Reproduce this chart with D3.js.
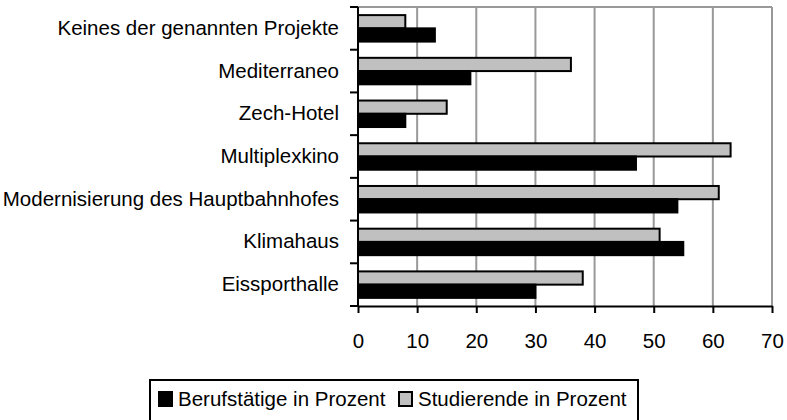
<!DOCTYPE html>
<html>
<head>
<meta charset="utf-8">
<script src="https://cdn.jsdelivr.net/npm/d3@7"></script>
<style>
  body { margin: 0; background: #fff; }
  svg text { font-family: "Liberation Sans", Arial, sans-serif; fill: #000; }
</style>
</head>
<body>
<div id="chart"></div>
<script>
// data, top to bottom as drawn
const categories = ["Keines der genannten Projekte", "Mediterraneo", "Zech-Hotel", "Multiplexkino",
    "Modernisierung des Hauptbahnhofes", "Klimahaus", "Eissporthalle"];
const berufstaetige = [13, 19, 8, 47, 54, 55, 30];
const studierende = [8, 36, 15, 63, 61, 51, 38];
const xTicks = [0, 10, 20, 30, 40, 50, 60, 70];
const seriesNames = ["Berufstätige in Prozent", "Studierende in Prozent"];

const svgWidth = 787, svgHeight = 420;
const margin = { top: 7, right: 15, bottom: 114, left: 358 };
const width = svgWidth - margin.left - margin.right;
const height = svgHeight - margin.top - margin.bottom;
const fontSize = 20.5;

const svg = d3.select("#chart").append("svg")
    .attr("width", svgWidth)
    .attr("height", svgHeight);

const g = svg.append("g")
    .attr("transform", `translate(${margin.left},${margin.top})`);

const x = d3.scaleLinear().domain([0, 70]).range([0, width]);
const y = d3.scaleBand().domain(categories).range([0, height])
    .paddingInner(0.38).paddingOuter(0.19);
// gray series on top, black below
const sub = d3.scaleBand().domain(["stud", "beruf"]).range([0, y.bandwidth()]);

// gridlines
g.append("g").selectAll("line")
    .data(xTicks.slice(1))
    .join("line")
    .attr("x1", d => x(d)).attr("x2", d => x(d))
    .attr("y1", 0).attr("y2", height)
    .attr("stroke", "#999").attr("stroke-width", 2);
g.append("line")
    .attr("x1", 0).attr("x2", width).attr("y1", 0).attr("y2", 0)
    .attr("stroke", "#999").attr("stroke-width", 2);

const rows = categories.map((c, i) => ({ c, beruf: berufstaetige[i], stud: studierende[i] }));

g.append("g").selectAll("rect")
    .data(rows)
    .join("rect")
    .attr("x", 0)
    .attr("y", d => y(d.c) + sub("stud"))
    .attr("width", d => x(d.stud))
    .attr("height", sub.bandwidth())
    .attr("fill", "#c0c0c0")
    .attr("stroke", "#000").attr("stroke-width", 2);

g.append("g").selectAll("rect")
    .data(rows)
    .join("rect")
    .attr("x", 0)
    .attr("y", d => y(d.c) + sub("beruf"))
    .attr("width", d => x(d.beruf))
    .attr("height", sub.bandwidth())
    .attr("fill", "#000")
    .attr("stroke", "#000").attr("stroke-width", 2);

// x axis
const xAxis = g.append("g")
    .attr("transform", `translate(0,${height})`)
    .call(d3.axisBottom(x).tickValues(xTicks).tickSize(7).tickSizeOuter(0).tickPadding(20));
xAxis.selectAll("line").attr("stroke", "#000").attr("stroke-width", 2);
xAxis.select(".domain").attr("stroke", "#000").attr("stroke-width", 2);
xAxis.selectAll("text").attr("font-size", fontSize).attr("font-family", "Liberation Sans");

// y axis labels
const yAxis = g.append("g")
    .call(d3.axisLeft(y).tickSize(0).tickPadding(19));
yAxis.select(".domain").remove();
yAxis.selectAll("text").attr("font-size", fontSize).attr("font-family", "Liberation Sans");

// y axis line and ticks between categories
const bounds = d3.range(categories.length + 1).map(i => y.range()[0] + i * y.step());
g.append("g").selectAll("line")
    .data(bounds)
    .join("line")
    .attr("x1", -8).attr("x2", 0)
    .attr("y1", d => d).attr("y2", d => d)
    .attr("stroke", "#000").attr("stroke-width", 2);
g.append("line")
    .attr("x1", 0).attr("x2", 0).attr("y1", 0).attr("y2", height)
    .attr("stroke", "#000").attr("stroke-width", 2);

// legend
const legend = svg.append("g");
legend.append("rect")
    .attr("x", 150).attr("y", 380).attr("width", 488).attr("height", 60)
    .attr("fill", "#fff").attr("stroke", "#000").attr("stroke-width", 2);
const legendItems = [
    { name: seriesNames[0], fill: "#000", x: 158 },
    { name: seriesNames[1], fill: "#c0c0c0", x: 398 }
];
const li = legend.selectAll("g.item").data(legendItems).join("g").attr("class", "item")
    .attr("transform", d => `translate(${d.x},391)`);
li.append("rect")
    .attr("x", 1).attr("y", 1).attr("width", 13).attr("height", 14)
    .attr("fill", d => d.fill).attr("stroke", "#000").attr("stroke-width", 2);
li.append("text")
    .attr("x", 20).attr("y", 15)
    .attr("font-size", fontSize)
    .text(d => d.name);
</script>
</body>
</html>
